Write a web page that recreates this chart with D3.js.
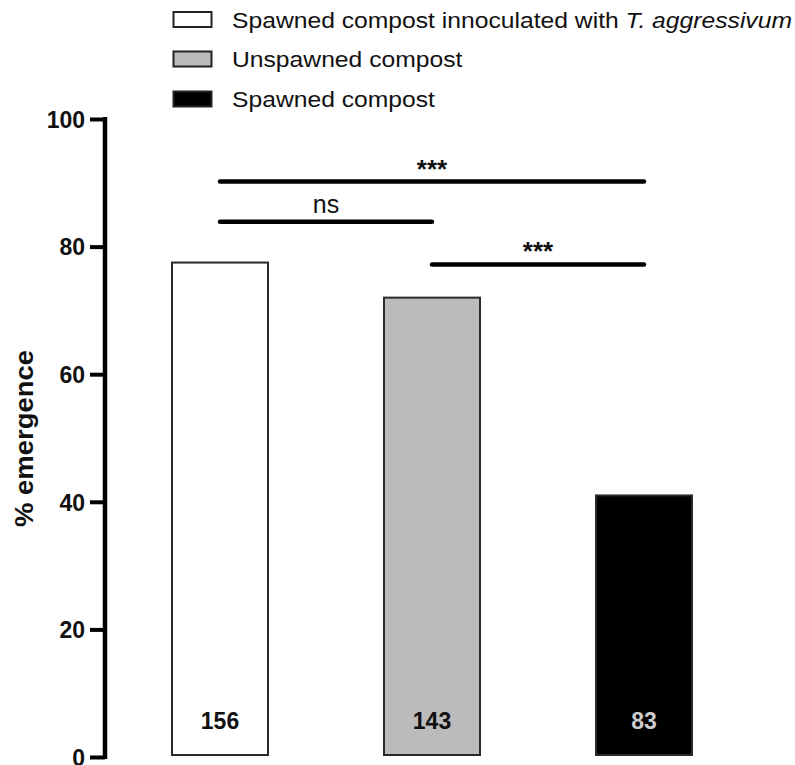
<!DOCTYPE html>
<html>
<head>
<meta charset="utf-8">
<script src="https://cdn.jsdelivr.net/npm/d3@7"></script>
<style>
  body { margin: 0; background: #fff; }
  svg { display: block; font-family: "Liberation Sans", Arial, sans-serif; }
</style>
</head>
<body>
<svg id="chart" width="795" height="765"></svg>
<script>
// Treatments, % emergence and number of flies per group
const groups = ["inoculated", "unspawned", "spawned"];
const emergence = [77.5, 72, 41];
const counts = ["156", "143", "83"];
const fills = ["#ffffff", "#bbbbbb", "#000000"];
const countColors = ["#111111", "#111111", "#cccccc"];
const legendLabels = [
  ["Spawned compost innoculated with ", "T. aggressivum"],
  ["Unspawned compost", ""],
  ["Spawned compost", ""]
];
const yTicks = [0, 20, 40, 60, 80, 100];

// Pairwise comparisons: [from group, to group, line height (%), label]
const comparisons = [
  [0, 2, 90.2, "***"],
  [0, 1, 83.9, "ns"],
  [1, 2, 77.2, "***"]
];

const svg = d3.select("#chart");

const y = d3.scaleLinear().domain([0, 100]).range([757, 119]);
const xc = d3.scalePoint().domain(groups).range([220, 644]);
const barW = 96;

// Y axis
const yAxis = d3.axisLeft(y).tickValues(yTicks).tickSize(15).tickPadding(5);
const ga = svg.append("g").attr("transform", "translate(105,0)").call(yAxis);
ga.select(".domain").attr("stroke", "#000").attr("stroke-width", 4.5)
  .attr("d", `M0,${y(100) - 2}V${y(0) + 2}`);
ga.selectAll(".tick line").attr("stroke", "#000").attr("stroke-width", 4);
ga.selectAll(".tick text").attr("font-size", 23).attr("font-weight", "bold")
  .attr("fill", "#111").attr("dy", "0.36em")
  .attr("font-family", "\"Liberation Sans\", Arial, sans-serif");

svg.append("text")
  .attr("transform", "translate(33,438.5) rotate(-90)")
  .attr("text-anchor", "middle")
  .attr("font-size", 25).attr("font-weight", "bold").attr("fill", "#111")
  .attr("textLength", 177).attr("lengthAdjust", "spacingAndGlyphs")
  .text("% emergence");

// Bars
svg.selectAll("rect.bar").data(groups).join("rect")
  .attr("class", "bar")
  .attr("x", g => xc(g) - barW / 2)
  .attr("width", barW)
  .attr("y", (g, i) => y(emergence[i]))
  .attr("height", (g, i) => y(0) - 2 - y(emergence[i]))
  .attr("fill", (g, i) => fills[i])
  .attr("stroke", "#2a2a2a").attr("stroke-width", 2);

// Counts inside bars
svg.selectAll("text.count").data(groups).join("text")
  .attr("class", "count")
  .attr("x", g => xc(g))
  .attr("y", 729)
  .attr("text-anchor", "middle")
  .attr("font-size", 23).attr("font-weight", "bold")
  .attr("fill", (g, i) => countColors[i])
  .text((g, i) => counts[i]);

// Significance brackets
comparisons.forEach(([a, b, h, lab]) => {
  const x1 = xc(groups[a]), x2 = xc(groups[b]);
  svg.append("line")
    .attr("x1", x1).attr("x2", x2)
    .attr("y1", y(h)).attr("y2", y(h))
    .attr("stroke", "#000").attr("stroke-width", 4.5).attr("stroke-linecap", "round");
  const ns = lab === "ns";
  svg.append("text")
    .attr("x", (x1 + x2) / 2)
    .attr("y", y(h) + (ns ? -9 : -4))
    .attr("text-anchor", "middle")
    .attr("font-size", ns ? 25 : 26)
    .attr("font-weight", ns ? "normal" : "bold")
    .attr("fill", "#111")
    .text(lab);
});

// Legend
const lg = svg.append("g");
const legendY = [19.5, 59, 99];
const texts = [];
legendLabels.forEach((parts, i) => {
  const yy = legendY[i];
  lg.append("rect")
    .attr("x", 173.5).attr("y", yy - 7.5).attr("width", 38).attr("height", 15)
    .attr("fill", fills[i]).attr("stroke", "#222").attr("stroke-width", 2);
  const t = lg.append("text")
    .attr("font-size", 22.5).attr("fill", "#111")
    .attr("data-y", yy + 8);
  t.append("tspan").text(parts[0]);
  if (parts[1]) t.append("tspan").attr("font-style", "italic").text(parts[1]);
  texts.push(t);
});
// legend labels share one horizontal scale so the first row spans 232..792
const k = 560 / texts[0].node().getComputedTextLength();
texts.forEach(t => t.attr("transform", `translate(232,${t.attr("data-y")}) scale(${k},1)`));
</script>
</body>
</html>
